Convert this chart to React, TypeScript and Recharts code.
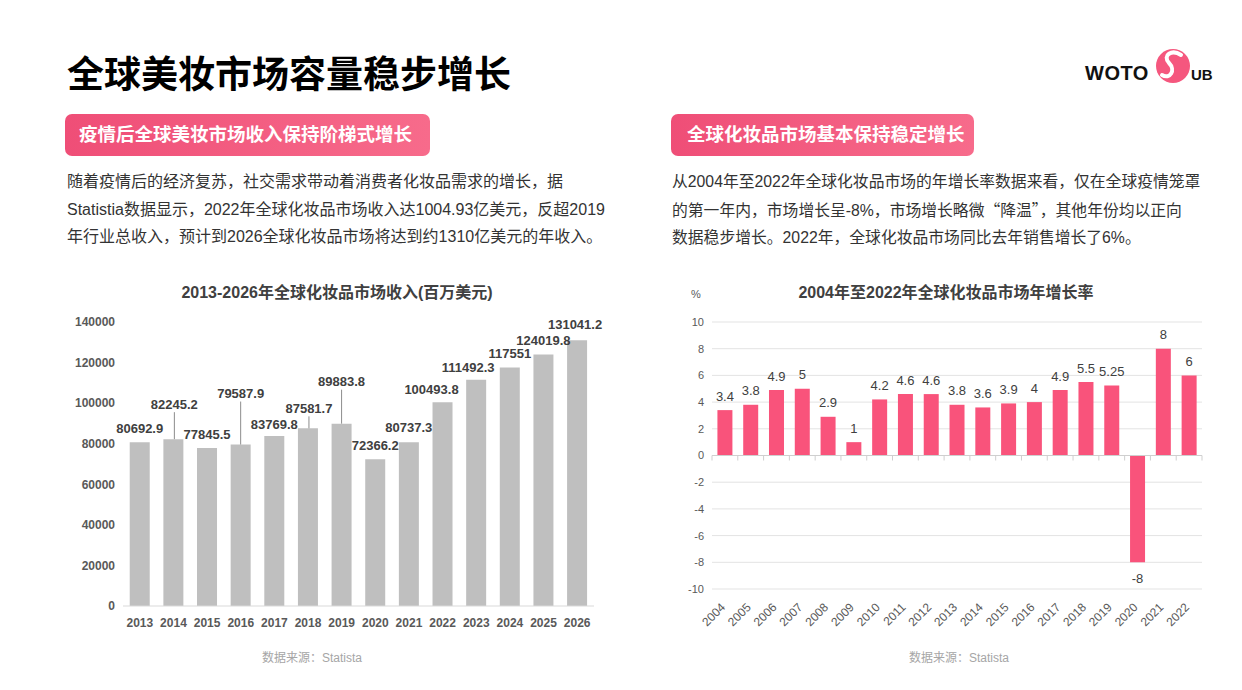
import { BarChart, Bar, XAxis, YAxis, CartesianGrid, LabelList, ReferenceLine } from 'recharts';

const FONT = "'Liberation Sans', 'Noto Sans CJK SC', sans-serif";
const CJK = "'Noto Sans CJK SC', sans-serif";
const PINK = '#f9537b';
const GREY_BAR = '#bfbfbf';
const AXIS_TEXT = '#595959';

// 全球化妆品市场收入, 百万美元
const REVENUE_YEARS = ['2013', '2014', '2015', '2016', '2017', '2018', '2019', '2020', '2021', '2022', '2023', '2024', '2025', '2026'];
const REVENUE = [80692.9, 82245.2, 77845.5, 79587.9, 83769.8, 87581.7, 89883.8, 72366.2, 80737.3, 100493.8, 111492.3, 117551, 124019.8, 131041.2];
const REVENUE_TICKS = [0, 20000, 40000, 60000, 80000, 100000, 120000, 140000];

// how far each value label sits above its bar, and its sideways nudge (px)
const REVENUE_LABEL_LIFT = [14, 35, 14, 51, 12, 20, 42, 14, 15, 13, 13, 14, 14, 16];
const REVENUE_LABEL_SHIFT = [0, 1, 0, 0, 0, 1, 0, 0, 0, -11, -8, 0, 0, -2];

// 年增长率, %
const GROWTH_YEARS = ['2004', '2005', '2006', '2007', '2008', '2009', '2010', '2011', '2012', '2013', '2014', '2015', '2016', '2017', '2018', '2019', '2020', '2021', '2022'];
const GROWTH = [3.4, 3.8, 4.9, 5, 2.9, 1, 4.2, 4.6, 4.6, 3.8, 3.6, 3.9, 4, 4.9, 5.5, 5.25, -8, 8, 6];
const GROWTH_TICKS = [-10, -8, -6, -4, -2, 0, 2, 4, 6, 8, 10];

const revenueData = REVENUE_YEARS.map((year, i) => ({ year, value: REVENUE[i] }));
const growthData = GROWTH_YEARS.map((year, i) => ({ year, value: GROWTH[i] }));

function RevenueLabel(props: any) {
  const vb = props.viewBox ?? props;
  const { x, y, width } = vb;
  let i = props.index;
  if (typeof i !== 'number') i = REVENUE.indexOf(Number(props.value));
  const lift = REVENUE_LABEL_LIFT[i] ?? 14;
  const shift = REVENUE_LABEL_SHIFT[i] ?? 0;
  const cx = x + width / 2 + shift;
  const cy = y - lift;
  return (
    <g>
      {lift > 18 && <line x1={cx} x2={cx} y1={cy + 8} y2={y} stroke="#8c8c8c" strokeWidth={1} />}
      <text x={cx} y={cy} dy="0.36em" textAnchor="middle" fontSize={13} fontWeight={700} fill="#404040" fontFamily={FONT}>
        {props.value}
      </text>
    </g>
  );
}

function GrowthLabel(props: any) {
  const vb = props.viewBox ?? props;
  const { x, y, width, height } = vb;
  const v = Number(props.value);
  const cx = x + width / 2;
  const top = Math.min(y, y + height);
  const bottom = Math.max(y, y + height);
  const ty = v >= 0 ? top - 14 : bottom + 16;
  return (
    <text x={cx} y={ty} dy="0.36em" textAnchor="middle" fontSize={13} fill="#404040" fontFamily={FONT}>
      {props.value}
    </text>
  );
}

function SlantedYear(props: any) {
  const { x, y, payload } = props;
  const by = y + 11;
  return (
    <text x={x + 1} y={by} transform={`rotate(-45, ${x + 1}, ${by})`} textAnchor="end" fontSize={12} fill={AXIS_TEXT} fontFamily={FONT}>
      {payload.value}
    </text>
  );
}

// category axis drawn through zero, with ticks between the years
function ZeroAxis(props: any) {
  const { x1, y1, x2 } = props;
  const n = GROWTH_YEARS.length;
  const step = (x2 - x1) / n;
  return (
    <g>
      <line x1={x1} y1={y1} x2={x2} y2={y1} stroke="#cfcfcf" strokeWidth={1} />
      {Array.from({ length: n + 1 }, (_, i) => (
        <line key={i} x1={x1 + i * step} x2={x1 + i * step} y1={y1} y2={y1 + 5} stroke="#cfcfcf" strokeWidth={1} />
      ))}
    </g>
  );
}

function Logo() {
  return (
    <svg width={150} height={50} style={{ position: 'absolute', left: 1080, top: 40 }}>
      <text x={5} y={40} fontSize={20} fontWeight={700} fill="#111" fontFamily="'Liberation Sans', sans-serif" letterSpacing={0.5}>
        WOTO
      </text>
      <circle cx={93} cy={26} r={17} fill="#f5577e" />
      <path d="M101 15 C 92 9, 82 15, 89 23 C 96 30, 90 40, 82 35" stroke="#fff" strokeWidth={4} fill="none" strokeLinecap="round" />
      <text x={111} y={40} fontSize={15} fontWeight={700} fill="#111" fontFamily="'Liberation Sans', sans-serif">
        UB
      </text>
    </svg>
  );
}

const pill: React.CSSProperties = {
  position: 'absolute',
  top: 114,
  height: 42,
  borderRadius: 7,
  background: 'linear-gradient(90deg, #ef4e77, #f76b8b)',
  color: '#fff',
  fontSize: 18.5,
  fontWeight: 700,
  lineHeight: '42px',
  whiteSpace: 'nowrap',
  fontFamily: FONT,
};

const para: React.CSSProperties = {
  position: 'absolute',
  fontSize: 16,
  lineHeight: '27.5px',
  color: '#333',
  whiteSpace: 'nowrap',
  fontFamily: FONT,
};

const chartTitle: React.CSSProperties = {
  position: 'absolute',
  top: 283,
  fontSize: 16,
  fontWeight: 700,
  color: '#404040',
  whiteSpace: 'nowrap',
  lineHeight: '20px',
  transform: 'translateX(-50%)',
  fontFamily: FONT,
};

const source: React.CSSProperties = {
  position: 'absolute',
  top: 650,
  fontSize: 12,
  color: '#a6a6a6',
  whiteSpace: 'nowrap',
  lineHeight: '16px',
  transform: 'translateX(-50%)',
  fontFamily: FONT,
};

export default function App() {
  return (
    <div style={{ position: 'absolute', left: 0, top: 0, width: 1242, height: 690, background: '#fff', overflow: 'hidden', fontFamily: FONT }}>
      <div style={{ position: 'absolute', left: 67, top: 53, fontSize: 37, fontWeight: 700, lineHeight: '38px', color: '#000', fontFamily: CJK }}>
        全球美妆市场容量稳步增长
      </div>
      <Logo />

      <div style={{ ...pill, left: 65, width: 365, paddingLeft: 14, boxSizing: 'border-box' }}>疫情后全球美妆市场收入保持阶梯式增长</div>
      <div style={{ ...para, left: 67, top: 168 }}>
        <div>随着疫情后的经济复苏，社交需求带动着消费者化妆品需求的增长，据</div>
        <div>Statistia数据显示，2022年全球化妆品市场收入达1004.93亿美元，反超2019</div>
        <div>年行业总收入，预计到2026全球化妆品市场将达到约1310亿美元的年收入。</div>
      </div>

      <div style={{ ...pill, left: 671, width: 303, paddingLeft: 16, boxSizing: 'border-box' }}>全球化妆品市场基本保持稳定增长</div>
      <div style={{ ...para, left: 672, top: 168, fontSize: 15.8 }}>
        <div>从2004年至2022年全球化妆品市场的年增长率数据来看，仅在全球疫情笼罩</div>
        <div>
          的第一年内，市场增长呈-8%，市场增长略微<span style={{ fontFamily: CJK }}>“降温”</span>，其他年份均以正向
        </div>
        <div>数据稳步增长。2022年，全球化妆品市场同比去年销售增长了6%。</div>
      </div>

      {/* left: revenue */}
      <div style={{ ...chartTitle, left: 337 }}>2013-2026年全球化妆品市场收入(百万美元)</div>
      <div style={{ position: 'absolute', left: 60, top: 300 }}>
        <BarChart width={544} height={340} data={revenueData} margin={{ top: 22, right: 10, bottom: 4, left: 0 }} barCategoryGap="20%">
          <XAxis
            dataKey="year"
            interval={0}
            tickLine={false}
            axisLine={{ stroke: '#d9d9d9' }}
            tickMargin={6}
            tick={{ fontSize: 12, fontWeight: 700, fill: AXIS_TEXT, fontFamily: FONT }}
          />
          <YAxis
            width={63}
            domain={[0, 140000]}
            ticks={REVENUE_TICKS}
            interval={0}
            axisLine={false}
            tickLine={false}
            tick={{ fontSize: 12, fontWeight: 700, fill: AXIS_TEXT, fontFamily: FONT }}
          />
          <Bar dataKey="value" fill={GREY_BAR} isAnimationActive={false}>
            <LabelList dataKey="value" content={RevenueLabel} />
          </Bar>
        </BarChart>
      </div>
      <div style={{ ...source, left: 312 }}>数据来源：Statista</div>

      {/* right: growth rate */}
      <div style={{ ...chartTitle, left: 946 }}>2004年至2022年全球化妆品市场年增长率</div>
      <div style={{ position: 'absolute', left: 691, top: 287, fontSize: 11, color: AXIS_TEXT, lineHeight: '14px' }}>%</div>
      <div style={{ position: 'absolute', left: 650, top: 300 }}>
        <BarChart width={562} height={340} data={growthData} margin={{ top: 22, right: 10, bottom: 1, left: 0 }} barCategoryGap="21%">
          <CartesianGrid vertical={false} stroke="#e3e3e3" />
          <XAxis dataKey="year" interval={0} height={50} axisLine={false} tickLine={false} tick={SlantedYear} />
          <YAxis
            width={62}
            domain={[-10, 10]}
            ticks={GROWTH_TICKS}
            interval={0}
            axisLine={false}
            tickLine={false}
            tick={{ fontSize: 11, fill: AXIS_TEXT, fontFamily: FONT }}
          />
          <ReferenceLine y={0} shape={ZeroAxis} />
          <Bar dataKey="value" fill={PINK} isAnimationActive={false}>
            <LabelList dataKey="value" content={GrowthLabel} />
          </Bar>
        </BarChart>
      </div>
      <div style={{ ...source, left: 959 }}>数据来源：Statista</div>
    </div>
  );
}
